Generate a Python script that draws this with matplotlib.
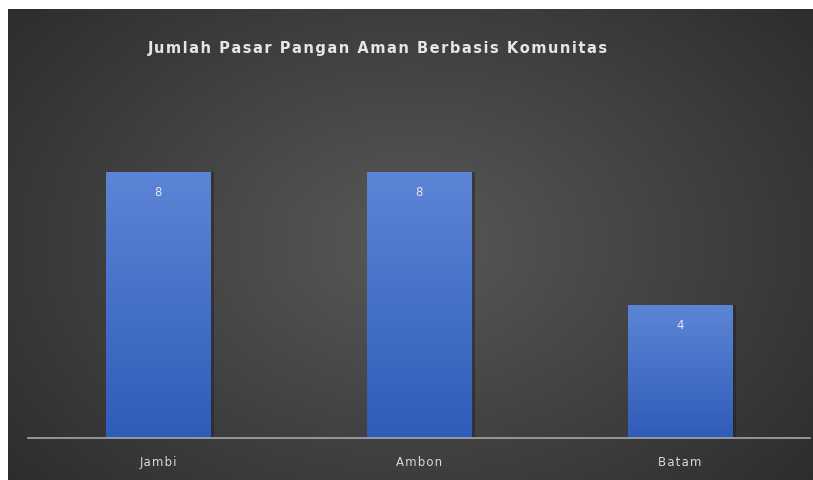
import numpy as np
import matplotlib.pyplot as plt
from matplotlib.colors import LinearSegmentedColormap

cities = ['Jambi', 'Ambon', 'Batam']
jumlah = [8, 8, 4]
title = 'Jumlah Pasar Pangan Aman Berbasis Komunitas'


def spaced(s, sep='\u200a'):
    # poor man's letter spacing
    return sep.join(s)


W, H = 813, 481
fig = plt.figure(figsize=(W / 100, H / 100), dpi=100)
fig.patch.set_facecolor('white')

# dark radial background panel
bg = fig.add_axes([8 / W, 0, 1 - 8 / W, 1 - 10 / H])
bg.set_axis_off()
yy, xx = np.mgrid[0:1:300j, 0:1:500j]
r = np.sqrt(((xx - 0.5) / 0.65) ** 2 + ((yy - 0.5) / 0.8) ** 2)
bg_cmap = LinearSegmentedColormap.from_list('bg', ['#585858', '#2d2d2d'])
bg.imshow(np.clip(r, 0, 1), cmap=bg_cmap, aspect='auto', extent=[0, 1, 0, 1])
bg.set_xlim(0, 1)
bg.set_ylim(0, 1)

ax = fig.add_axes([28 / W, (H - 439) / H, (810 - 28) / W, 332.5 / H])
ax.patch.set_alpha(0)
x = np.arange(len(cities))
bars = ax.bar(x, jumlah, width=0.40, color='#4472c4', zorder=2)

bar_cmap = LinearSegmentedColormap.from_list('bar', ['#2f5cb9', '#5d85d6'])
grad = np.linspace(0, 1, 256).reshape(-1, 1)
for b, v in zip(bars, jumlah):
    # soft shadow on right side
    ax.bar(b.get_x() + b.get_width() / 2 + 0.015, v, width=b.get_width(),
           color='#1e1e1e', alpha=0.45, zorder=1)
    im = ax.imshow(grad, cmap=bar_cmap, origin='lower', aspect='auto',
                   extent=[b.get_x(), b.get_x() + b.get_width(), 0, v], zorder=3)
    im.set_clip_path(b)
    ax.text(b.get_x() + b.get_width() / 2, v - 0.58, str(v), ha='center',
            va='center', color='#e8e8e8', fontsize=8.5, zorder=4)

ax.set_xlim(-0.5, 2.5)
ax.set_ylim(0, 10)
for s in ['top', 'right', 'left']:
    ax.spines[s].set_visible(False)
ax.spines['bottom'].set_color('#a6a6a6')
ax.spines['bottom'].set_linewidth(1.2)
ax.spines['bottom'].set_zorder(5)
ax.set_yticks([])
ax.set_xticks(x)
ax.set_xticklabels([spaced(c) for c in cities], color='#d9d9d9', fontsize=8.5)
ax.tick_params(axis='x', length=0, pad=12)

fig.text(378 / W, 1 - 49 / H, spaced(title), ha='center', va='center',
         color='#e6e6e6', fontsize=10.5, fontweight='bold')

fig.savefig('out.png', dpi=100)
